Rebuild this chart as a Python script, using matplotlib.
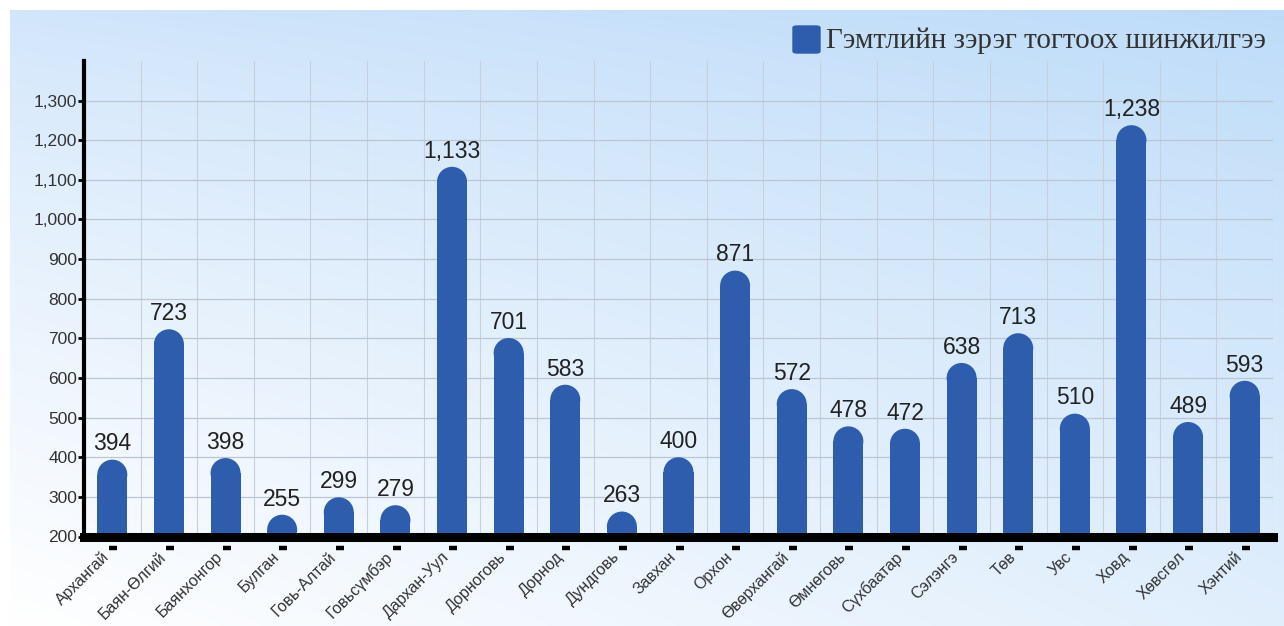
import numpy as np
import matplotlib.pyplot as plt
from matplotlib.patches import Ellipse, FancyBboxPatch
from matplotlib.ticker import FuncFormatter
import matplotlib.transforms as mtransforms

# аймгууд ба утгууд
aimag = ["Архангай", "Баян-Өлгий", "Баянхонгор", "Булган", "Говь-Алтай",
         "Говьсүмбэр", "Дархан-Уул", "Дорноговь", "Дорнод", "Дундговь",
         "Завхан", "Орхон", "Өвөрхангай", "Өмнөговь", "Сүхбаатар",
         "Сэлэнгэ", "Төв", "Увс", "Ховд", "Хөвсгөл", "Хэнтий"]
utga = [394, 723, 398, 255, 299, 279, 1133, 701, 583, 263, 400, 871,
        572, 478, 472, 638, 713, 510, 1238, 489, 593]
series_name = "Гэмтлийн зэрэг тогтоох шинжилгээ"
yticks = list(range(200, 1301, 100))

plt.rcParams['font.family'] = ['Liberation Sans', 'DejaVu Sans']
blue = '#2f5dae'

W, H = 1284, 626
fig = plt.figure(figsize=(W / 100, H / 100), dpi=100)

# gradient background panel
bg = fig.add_axes([10 / W, 0, 1 - 10 / W, 1 - 10 / H], zorder=-10)
tl = np.array([0.82, 0.90, 0.985])
tr = np.array([0.74, 0.86, 0.975])
bl = np.array([1.0, 1.0, 1.0])
br = np.array([0.88, 0.935, 0.99])
ny, nx = 200, 300
yy = np.linspace(0, 1, ny)[:, None, None] ** 0.8
xx = np.linspace(0, 1, nx)[None, :, None]
img = (1 - yy) * ((1 - xx) * tl + xx * tr) + yy * ((1 - xx) * bl + xx * br)
bg.imshow(img, aspect='auto', extent=[0, 1, 0, 1], interpolation='bicubic')
bg.axis('off')

ax = fig.add_axes([84 / W, 1 - 536.5 / H, (1273 - 84) / W, (536.5 - 61) / H])
ax.patch.set_alpha(0)

x = np.arange(len(aimag))
vals = np.array(utga)
ymin, ymax = 200, 1400
ax.set_xlim(-0.5, len(aimag) - 0.5)
ax.set_ylim(ymin, ymax)

bw = 0.53
# cap radius in data units so the rounded top is circular
px_per_x = ax.bbox.width / len(aimag)
px_per_y = ax.bbox.height / (ymax - ymin)
ry = bw / 2 * px_per_x / px_per_y

ax.bar(x, vals - ry - ymin, bottom=ymin, width=bw, color=blue, lw=0, zorder=3)
for xi, v in zip(x, vals):
    ax.add_patch(Ellipse((xi, v - ry), bw, 2 * ry, facecolor=blue, lw=0, zorder=3))
    ax.annotate(f"{v:,}", (xi, v), xytext=(0, 3), textcoords='offset points',
                ha='center', va='bottom', fontsize=16.5, color='#222222', zorder=4)

# grid
ax.set_yticks(yticks)
ax.set_xticks(x + 0.5, minor=True)
ax.grid(True, which='major', axis='y', color='#bcc5d2', lw=0.9, zorder=0)
ax.grid(True, which='minor', axis='x', color='#c8d0dc', lw=0.8, zorder=0)
ax.tick_params(axis='x', which='minor', length=0)

ax.yaxis.set_major_formatter(FuncFormatter(lambda v, p: f"{int(v):,}"))
ax.tick_params(axis='y', length=4, width=2, color='black', labelsize=12.5,
               labelcolor='#333333', pad=1)

ax.set_xticks(x)
ax.set_xticklabels(aimag, rotation=45, ha='right', va='center',
                   rotation_mode='anchor', fontsize=11.5, color='#333333')
ax.tick_params(axis='x', which='major', length=0, pad=13)
off = mtransforms.ScaledTranslation(-5 / 100, 0, fig.dpi_scale_trans)
for lab in ax.get_xticklabels():
    lab.set_transform(lab.get_transform() + off)

# small dash marks below the axis
ax.plot(x + 0.02, np.full(len(x), -0.024), transform=ax.get_xaxis_transform(),
        ls='none', marker='_', ms=6, mew=3.2, color='black', clip_on=False)

for s in ['top', 'right']:
    ax.spines[s].set_visible(False)
ax.spines['left'].set_linewidth(3)
ax.spines['bottom'].set_linewidth(6.5)
ax.spines['left'].set_zorder(5)
ax.spines['bottom'].set_zorder(5)

# legend
sq = FancyBboxPatch((793 / W, 1 - 53 / H), 27 / W, 27 / H,
                    boxstyle='round,pad=0,rounding_size=0.003',
                    transform=fig.transFigure, color=blue, zorder=5)
fig.add_artist(sq)
fig.text(826 / W, 1 - 48 / H, series_name, family=['Liberation Serif', 'DejaVu Serif'],
         fontsize=21, color='#333333', ha='left', va='baseline')

plt.savefig("out.png", dpi=100)
